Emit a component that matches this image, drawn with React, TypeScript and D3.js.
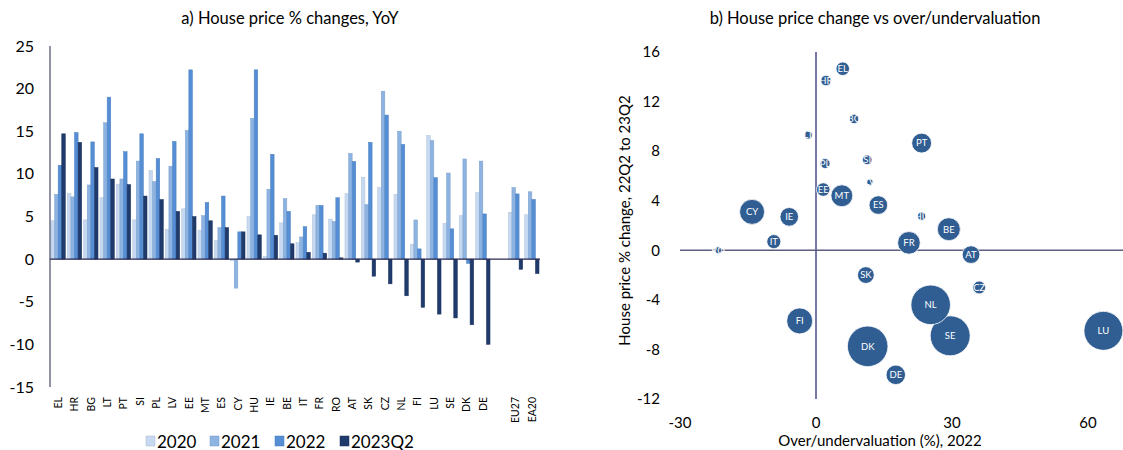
import React from "react";
import * as d3 from "d3";

// ---- panel a) data ----
const countries = ["EL", "HR", "BG", "LT", "PT", "SI", "PL", "LV", "EE", "MT", "ES", "CY", "HU", "IE", "BE", "IT", "FR", "RO", "AT", "SK", "CZ", "NL", "FI", "LU", "SE", "DK", "DE", "", "EU27", "EA20"];
const seriesNames = ["2020", "2021", "2022", "2023Q2"];
const y2020 = [4.5, 7.7, 4.6, 7.2, 8.8, 4.6, 10.4, 3.5, 5.9, 3.4, 2.2, -0.2, 5.0, 0.3, 4.25, 1.95, 5.2, 4.7, 7.7, 9.6, 8.4, 7.6, 1.75, 14.5, 4.2, 5.1, 7.8, null, 5.5, 5.2];
const y2021 = [7.6, 7.3, 8.7, 16.0, 9.4, 11.5, 9.1, 10.9, 15.1, 5.1, 3.7, -3.4, 16.5, 8.2, 7.1, 2.6, 6.3, 4.4, 12.4, 6.4, 19.7, 15.0, 4.6, 13.9, 10.1, 11.75, 11.5, null, 8.4, 7.9];
const y2022 = [11.0, 14.85, 13.75, 19.0, 12.6, 14.7, 11.8, 13.8, 22.2, 6.65, 7.4, 3.2, 22.2, 12.3, 5.6, 3.8, 6.3, 7.2, 11.45, 13.7, 16.9, 13.45, 1.2, 9.55, 3.55, -0.5, 5.3, null, 7.65, 7.0];
const y2023 = [14.7, 13.7, 10.75, 9.4, 8.75, 7.4, 7.0, 5.6, 5.0, 4.5, 3.7, 3.2, 2.85, 2.8, 1.8, 0.8, 0.7, 0.15, -0.35, -2.0, -2.9, -4.3, -5.65, -6.45, -6.9, -7.7, -10.0, null, -1.2, -1.7];
const seriesValues = [y2020, y2021, y2022, y2023];
const seriesColors = ["#c6d9f1", "#8db3e2", "#558ed5", "#1f3a6b"];
const yTicksA = [25, 20, 15, 10, 5, 0, -5, -10, -15];

// ---- panel b) data ----
const bubbleCodes = ["EL", "HR", "BG", "LT", "PT", "PL", "SI", "LV", "EE", "MT", "ES", "CY", "IE", "HU", "IT", "RO", "FR", "BE", "AT", "SK", "CZ", "NL", "FI", "SE", "DK", "DE", "LU"];
const overVal = [5.9, 2.2, 8.4, -1.7, 23.3, 2.0, 11.3, 11.9, 1.6, 5.7, 13.75, -14.1, -5.9, 23.3, -9.3, -21.6, 20.5, 29.3, 34.2, 11.0, 36.0, 25.3, -3.6, 29.6, 11.4, 17.6, 63.4];
const priceChange = [14.65, 13.7, 10.6, 9.3, 8.65, 7.0, 7.3, 5.5, 4.9, 4.4, 3.65, 3.1, 2.7, 2.75, 0.7, 0.0, 0.6, 1.7, -0.35, -2.0, -3.0, -4.4, -5.7, -6.9, -7.75, -10.05, -6.5];
const bubbleSize = [11, 6.6, 5.4, 3.9, 24, 6, 5.6, 2.5, 11, 29, 21, 38, 21, 3.9, 12, 3, 31, 32, 19, 17, 10, 95, 41, 97, 100, 23, 92];
const xTicksB = [-30, 0, 30, 60];
const yTicksB = [16, 12, 8, 4, 0, -4, -8, -12];

const FONT = "Lato, 'Noto Sans', sans-serif";

function PanelA() {
  const x = d3.scaleBand<string>().domain(countries.map((c, i) => c || "gap" + i)).range([50, 540]).paddingInner(0.12).paddingOuter(0.06);
  const xs = d3.scaleBand<string>().domain(seriesNames).range([0, x.bandwidth()]);
  const y = d3.scaleLinear().domain([-15, 25]).range([387, 46]);

  return (
    <g fontFamily={FONT}>
      <text x={290} y={24} textAnchor="middle" fontSize={16.5} fill="#000">a) House price % changes, YoY</text>
      {yTicksA.map((t) => (
        <text key={t} x={34} y={y(t)} dy="0.35em" textAnchor="end" fontSize={16} fill="#000">{t}</text>
      ))}
      {countries.map((c, i) => {
        const key = c || "gap" + i;
        const x0 = x(key)!;
        return (
          <g key={key}>
            {seriesValues.map((vals, s) => {
              const v = vals[i];
              if (v == null) return null;
              const top = y(Math.max(0, v));
              const h = Math.abs(y(v) - y(0));
              return (
                <rect key={s} x={x0 + xs(seriesNames[s])!} y={top} width={xs.bandwidth()} height={h}
                  fill={seriesColors[s]} stroke={d3.color(seriesColors[s])!.darker(0.3).toString()} strokeWidth={0.5} />
              );
            })}
            {c && (
              <text transform={`translate(${x0 + x.bandwidth() / 2},397) rotate(-90)`} dy="0.35em" textAnchor="end" fontSize={10.5} fill="#000">{c}</text>
            )}
          </g>
        );
      })}
      <line x1={50} x2={50} y1={y(25)} y2={y(-15)} stroke="#4a4a6a" strokeWidth={1.2} />
      <line x1={50} x2={540} y1={y(0)} y2={y(0)} stroke="#2a2a50" strokeWidth={1.2} />
      {seriesNames.map((n, s) => {
        const lx = [146, 210, 275, 340][s];
        return (
          <g key={n}>
            <rect x={lx} y={436} width={9} height={10} fill={seriesColors[s]} stroke={d3.color(seriesColors[s])!.darker(0.4).toString()} strokeWidth={0.5} />
            <text x={lx + 11} y={447.5} fontSize={17} fill="#000">{n}</text>
          </g>
        );
      })}
    </g>
  );
}

function PanelB() {
  const x = d3.scaleLinear().domain([-30, 60]).range([680, 1088]);
  const y = d3.scaleLinear().domain([-12, 16]).range([399, 52]);
  const r = d3.scaleSqrt().domain([0, 100]).range([0, 20.3]);
  const order = d3.range(bubbleCodes.length).sort((a, b) => bubbleSize[b] - bubbleSize[a]);

  return (
    <g fontFamily={FONT}>
      <text x={875} y={24} textAnchor="middle" fontSize={16.5} fill="#000">b) House price change vs over/undervaluation</text>
      {yTicksB.map((t) => (
        <text key={t} x={660} y={y(t)} dy="0.35em" textAnchor="end" fontSize={15} fill="#000">{t}</text>
      ))}
      {xTicksB.map((t) => (
        <text key={t} x={x(t)} y={428} textAnchor="middle" fontSize={15} fill="#000">{t}</text>
      ))}
      <text x={880} y={446} textAnchor="middle" fontSize={15} fill="#000">Over/undervaluation (%), 2022</text>
      <text transform={`translate(630,${(y(16) + y(-12)) / 2 - 5}) rotate(-90)`} textAnchor="middle" fontSize={15} fill="#000">House price % change,  22Q2 to 23Q2</text>
      <line x1={x(0)} x2={x(0)} y1={y(16)} y2={y(-12)} stroke="#1e1e6e" strokeWidth={1.2} />
      <line x1={680} x2={1123} y1={y(0)} y2={y(0)} stroke="#5e5e80" strokeWidth={1.5} />
      {order.map((i) => (
        <g key={bubbleCodes[i]}>
          <circle cx={x(overVal[i])} cy={y(priceChange[i])} r={r(bubbleSize[i])} fill="#305d92" stroke="#ffffff" strokeWidth={0.8} />
          <text x={x(overVal[i])} y={y(priceChange[i])} dy="0.35em" textAnchor="middle" fontSize={9.5} fill="#ffffff">{bubbleCodes[i]}</text>
        </g>
      ))}
    </g>
  );
}

export default function App() {
  return (
    <svg width={1123} height={450} style={{ position: "absolute", left: 0, top: 0, background: "#fff" }}>
      <PanelA />
      <PanelB />
    </svg>
  );
}
